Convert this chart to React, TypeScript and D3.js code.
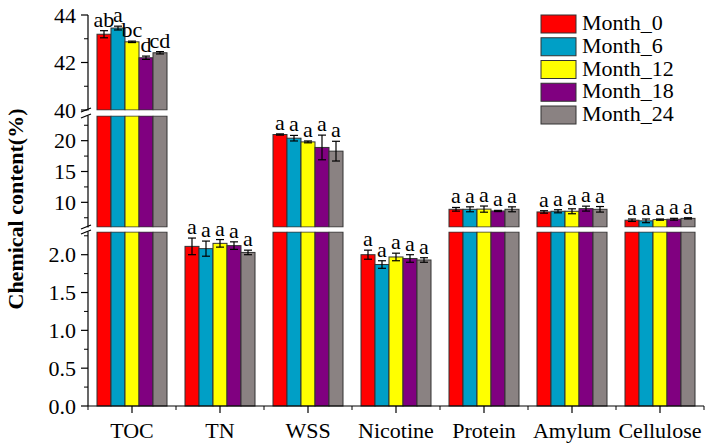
import React from "react";
import * as d3 from "d3";

const categories = ["TOC", "TN", "WSS", "Nicotine", "Protein", "Amylum", "Cellulose"];
const seriesNames = ["Month_0", "Month_6", "Month_12", "Month_18", "Month_24"];
const colors = ["#FF0000", "#009FC6", "#FFFF00", "#800080", "#8A8282"];

const month0 = [43.19, 2.11, 21.0, 2.0, 8.87, 8.44, 7.1];
const month6 = [43.45, 2.08, 20.4, 1.87, 8.87, 8.55, 7.0];
const month12 = [42.87, 2.15, 19.8, 1.97, 8.9, 8.55, 7.2];
const month18 = [42.2, 2.12, 18.9, 1.95, 8.6, 8.98, 7.26];
const month24 = [42.41, 2.03, 18.3, 1.93, 8.87, 8.87, 7.4];

const err0 = [0.15, 0.11, 0.1, 0.06, 0.3, 0.2, 0.2];
const err6 = [0.08, 0.1, 0.45, 0.05, 0.4, 0.25, 0.3];
const err12 = [0.03, 0.05, 0.15, 0.05, 0.5, 0.4, 0.1];
const err18 = [0.07, 0.05, 2.0, 0.05, 0.1, 0.4, 0.15];
const err24 = [0.05, 0.03, 1.6, 0.03, 0.4, 0.45, 0.1];

const letters0 = ["ab", "a", "a", "a", "a", "a", "a"];
const letters6 = ["a", "a", "a", "a", "a", "a", "a"];
const letters12 = ["bc", "a", "a", "a", "a", "a", "a"];
const letters18 = ["d", "a", "a", "a", "a", "a", "a"];
const letters24 = ["cd", "a", "a", "a", "a", "a", "a"];

const values = [month0, month6, month12, month18, month24];
const errors = [err0, err6, err12, err18, err24];
const letters = [letters0, letters6, letters12, letters18, letters24];

// segment domains of the broken axis
const bottomDomain = [0, 2.3];
const middleDomain = [6, 24];
const topDomain = [40, 44];
const bottomTicks = [0, 0.5, 1.0, 1.5, 2.0];
const middleTicks = [10, 15, 20];
const topTicks = [40, 42, 44];

const W = 709;
const H = 445;
const FONT = "Liberation Serif";

export default function App() {
  const x0 = 88;
  const x1 = 704;
  const yBottom = d3.scaleLinear().domain(bottomDomain).range([406, 232]);
  const yMiddle = d3.scaleLinear().domain(middleDomain).range([227, 116]);
  const yTop = d3.scaleLinear().domain(topDomain).range([110, 15]);
  const segments = [
    { s: yBottom, d: bottomDomain, ticks: bottomTicks, fmt: d3.format(".1f"), minorStep: 0.25 },
    { s: yMiddle, d: middleDomain, ticks: middleTicks, fmt: d3.format("d"), minorStep: 2.5 },
    { s: yTop, d: topDomain, ticks: topTicks, fmt: d3.format("d"), minorStep: 1 },
  ];

  const xBand = d3.scaleBand().domain(categories).range([x0, x1]).paddingInner(0.2045).paddingOuter(0.10225);
  const xInner = d3.scaleBand().domain(seriesNames).range([0, xBand.bandwidth()]);

  const yOf = (v) => {
    if (v <= bottomDomain[1]) return yBottom(v);
    if (v <= middleDomain[1]) return yMiddle(Math.max(v, middleDomain[0]));
    return yTop(Math.max(v, topDomain[0]));
  };

  const bars = [];
  const errs = [];
  const labels = [];
  categories.forEach((cat, ci) => {
    seriesNames.forEach((sn, si) => {
      const v = values[si][ci];
      const e = errors[si][ci];
      const bx = (xBand(cat) ?? 0) + (xInner(sn) ?? 0);
      const bw = xInner.bandwidth();
      segments.forEach((seg, gi) => {
        const lo = seg.d[0];
        if (v <= lo) return;
        const hi = Math.min(v, seg.d[1]);
        const yA = seg.s(lo);
        const yB = seg.s(hi);
        bars.push(
          <rect key={`b${ci}-${si}-${gi}`} x={bx} y={yB} width={bw} height={yA - yB}
            fill={colors[si]} stroke="#333" strokeWidth={1} />
        );
      });
      const cx = bx + bw / 2;
      const yHi = yOf(v + e);
      const yLo = yOf(v - e);
      errs.push(
        <g key={`e${ci}-${si}`} stroke="#000" strokeWidth={1.2}>
          <line x1={cx} x2={cx} y1={yHi} y2={yLo} />
          <line x1={cx - 4} x2={cx + 4} y1={yHi} y2={yHi} />
          <line x1={cx - 4} x2={cx + 4} y1={yLo} y2={yLo} />
        </g>
      );
      labels.push(
        <text key={`l${ci}-${si}`} x={cx} y={yHi - 4} textAnchor="middle" fontSize={22} fontFamily={FONT}>
          {letters[si][ci]}
        </text>
      );
    });
  });

  const gaps = [
    [yTop(topDomain[0]), yMiddle(middleDomain[1])],
    [yMiddle(middleDomain[0]), yBottom(bottomDomain[1])],
  ];

  const yTicks = [];
  segments.forEach((seg, gi) => {
    seg.ticks.forEach((t) => {
      const y = seg.s(t);
      yTicks.push(
        <g key={`yt${gi}-${t}`}>
          <line x1={x0 - 7} x2={x0} y1={y} y2={y} stroke="#000" strokeWidth={1.2} />
          <text x={x0 - 12} y={y} dy="0.35em" textAnchor="end" fontSize={22} fontFamily={FONT}>
            {seg.fmt(t)}
          </text>
        </g>
      );
    });
    const minors = d3.range(Math.ceil(seg.d[0] / seg.minorStep) * seg.minorStep, seg.d[1] + 1e-9, seg.minorStep)
      .filter((m) => !seg.ticks.some((t) => Math.abs(t - m) < 1e-6));
    minors.forEach((m) => {
      const y = seg.s(m);
      yTicks.push(<line key={`ym${gi}-${m}`} x1={x0 - 4} x2={x0} y1={y} y2={y} stroke="#000" strokeWidth={1} />);
    });
  });

  const step = xBand.step();
  const xMinor = d3.range(categories.length + 1).map((i) => x0 + i * step);

  return (
    <svg width={W} height={H} style={{ position: "absolute", left: 0, top: 0, background: "#fff" }}>
      <rect width={W} height={H} fill="#fff" />
      {bars}
      {errs}
      {/* axes */}
      <line x1={x0} x2={x0} y1={yBottom(0)} y2={yTop(topDomain[1])} stroke="#000" strokeWidth={1.2} />
      <line x1={x0} x2={x1} y1={yBottom(0)} y2={yBottom(0)} stroke="#000" strokeWidth={1.2} />
      {yTicks}
      {categories.map((c) => {
        const cx = (xBand(c) ?? 0) + xBand.bandwidth() / 2;
        return (
          <g key={`xt${c}`}>
            <line x1={cx} x2={cx} y1={406} y2={413} stroke="#000" strokeWidth={1.2} />
            <text x={cx} y={438} textAnchor="middle" fontSize={22} fontFamily={FONT}>{c}</text>
          </g>
        );
      })}
      {xMinor.map((mx, i) => (
        <line key={`xm${i}`} x1={mx} x2={mx} y1={406} y2={410} stroke="#000" strokeWidth={1} />
      ))}
      {/* gaps */}
      {gaps.map(([ya, yb], i) => (
        <g key={`gap${i}`}>
          <rect x={x0 - 1} y={ya + 0.5} width={x1 - x0 + 2} height={yb - ya - 1} fill="#fff" />
          <line x1={x0 - 7} x2={x0 + 3} y1={ya + 2} y2={ya - 2} stroke="#000" strokeWidth={1.2} />
          <line x1={x0 - 7} x2={x0 + 3} y1={yb + 2} y2={yb - 2} stroke="#000" strokeWidth={1.2} />
        </g>
      ))}
      {labels}
      {/* y title */}
      <text transform={`translate(23, 209) rotate(-90)`} textAnchor="middle" fontSize={22} fontWeight="bold" fontFamily={FONT}>
        Chemical content(%)
      </text>
      {/* legend */}
      {seriesNames.map((s, i) => (
        <g key={`lg${s}`} transform={`translate(541, ${15 + i * 22.75})`}>
          <rect x={0} y={0} width={35} height={18} fill={colors[i]} stroke="#333" strokeWidth={1} />
          <text x={41} y={15} fontSize={22} fontFamily={FONT}>{s}</text>
        </g>
      ))}
    </svg>
  );
}
